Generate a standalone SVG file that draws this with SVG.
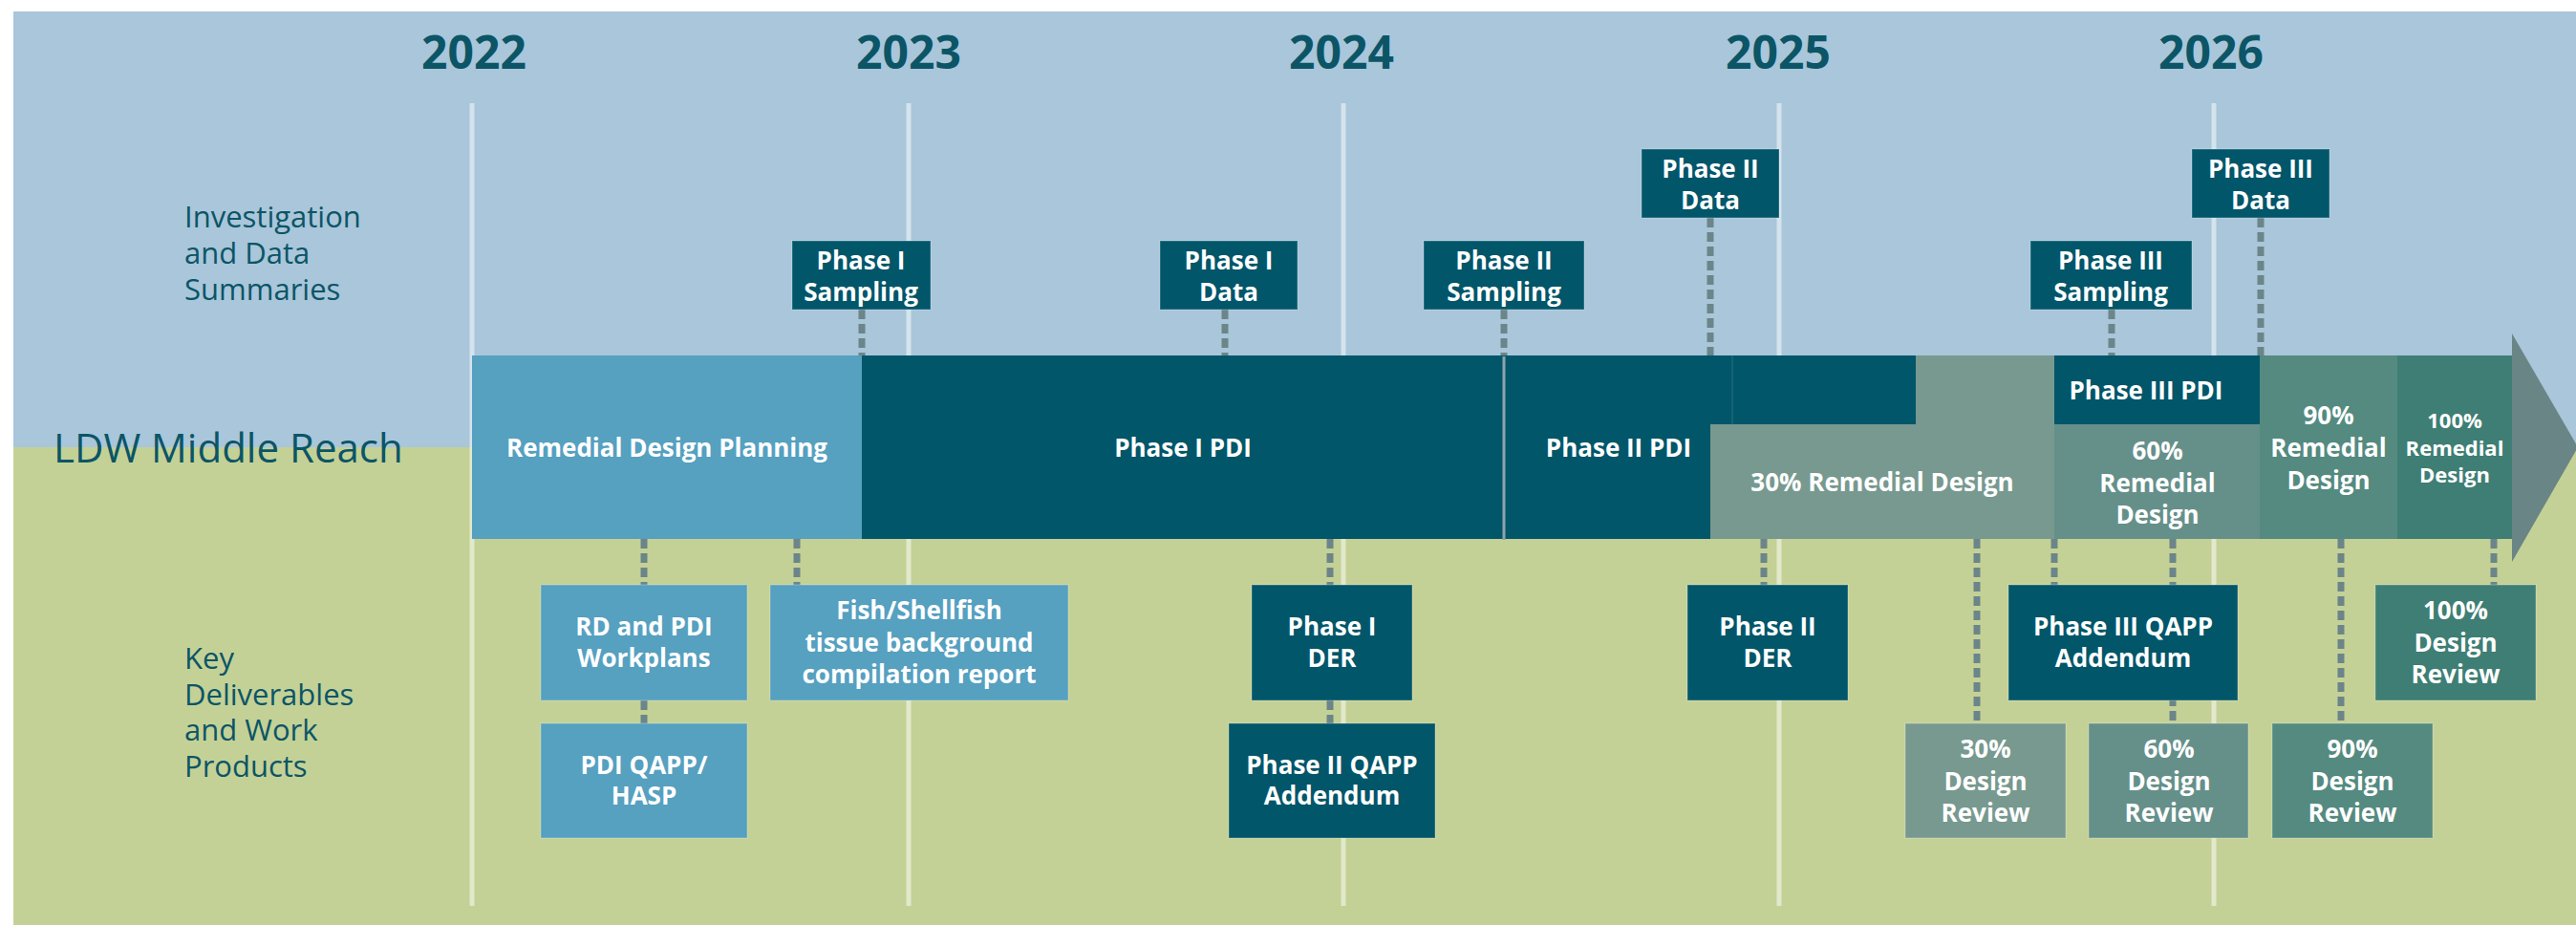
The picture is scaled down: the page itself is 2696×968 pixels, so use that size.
<svg xmlns="http://www.w3.org/2000/svg" width="2696" height="968" viewBox="0 0 2696 968">
<style>
.lbl{font-family:"Open Sans","Noto Sans","Liberation Sans",sans-serif;fill:#0b5566}
.side{font-size:31px}
.title{font-size:42px}
.yr{font-size:48px;font-weight:700;text-anchor:middle}
.t{font-family:"Open Sans","Noto Sans","Liberation Sans",sans-serif;font-weight:700;font-size:26px;fill:#fff;text-anchor:middle}
.ts{font-size:22px}
.yl{stroke:#fff;stroke-opacity:.5;stroke-width:5}
.cn{stroke:#6b8589;stroke-width:7;stroke-dasharray:10 5;fill:none}
.b{stroke:#fff;stroke-opacity:.2;stroke-width:1.5}
.dk{fill:#02566a}
.lb{fill:#56a0c0}
.g30{fill:#77998f}
.g60{fill:#65908a}
.g90{fill:#548a80}
.g100{fill:#3e7e74}
</style>
<rect x="0" y="0" width="2696" height="968" fill="#fff"/>
<rect x="14" y="12" width="2682" height="456" fill="#a9c6da"/>
<rect x="14" y="468" width="2682" height="500" fill="#c4d196"/>

<g id="year-lines">
<line class="yl" x1="494" y1="108" x2="494" y2="948"/>
<line class="yl" x1="951" y1="108" x2="951" y2="948"/>
<line class="yl" x1="1406" y1="108" x2="1406" y2="948"/>
<line class="yl" x1="1862" y1="108" x2="1862" y2="948"/>
<line class="yl" x1="2317" y1="108" x2="2317" y2="948"/>
</g>
<g id="years" class="lbl yr">
<text x="496" y="72">2022</text>
<text x="951" y="72">2023</text>
<text x="1404" y="72">2024</text>
<text x="1861" y="72">2025</text>
<text x="2314" y="72">2026</text>
</g>
<g id="row-labels" class="lbl side">
<text x="193" y="238">Investigation</text>
<text x="193" y="276">and Data</text>
<text x="193" y="314">Summaries</text>
<text x="193" y="700">Key</text>
<text x="193" y="738">Deliverables</text>
<text x="193" y="775">and Work</text>
<text x="193" y="813">Products</text>
</g>
<text id="title" class="lbl title" x="56" y="484">LDW Middle Reach</text>

<g id="connectors">
<line class="cn" x1="902" y1="324" x2="902" y2="372"/>
<line class="cn" x1="1282" y1="324" x2="1282" y2="372"/>
<line class="cn" x1="1574" y1="324" x2="1574" y2="372"/>
<line class="cn" x1="1790" y1="228" x2="1790" y2="372"/>
<line class="cn" x1="2210" y1="324" x2="2210" y2="372"/>
<line class="cn" x1="2366" y1="228" x2="2366" y2="372"/>
<line class="cn" x1="674" y1="564" x2="674" y2="612"/>
<line class="cn" x1="674" y1="733" x2="674" y2="757"/>
<line class="cn" x1="834" y1="564" x2="834" y2="612"/>
<line class="cn" x1="1392" y1="564" x2="1392" y2="612"/>
<line class="cn" x1="1392" y1="733" x2="1392" y2="757"/>
<line class="cn" x1="1846" y1="564" x2="1846" y2="612"/>
<line class="cn" x1="2069" y1="564" x2="2069" y2="757"/>
<line class="cn" x1="2150" y1="564" x2="2150" y2="612"/>
<line class="cn" x1="2274" y1="564" x2="2274" y2="757"/>
<line class="cn" x1="2450" y1="564" x2="2450" y2="757"/>
<line class="cn" x1="2610" y1="564" x2="2610" y2="612"/>
</g>

<g id="seg-rd-planning">
<rect class="lb" x="494" y="372" width="408" height="192"/>
<text class="t" x="698" y="478">Remedial Design Planning</text>
</g>
<g id="seg-phase1-pdi">
<rect class="dk" x="902" y="372" width="672" height="192"/>
<text class="t" x="1238" y="478">Phase I PDI</text>
</g>
<g id="seg-phase2-pdi">
<rect class="dk" x="1574" y="372" width="239" height="192"/>
<rect class="dk" x="1813" y="372" width="192" height="72"/>
<line x1="1813" y1="372" x2="1813" y2="444" stroke="#fff" stroke-opacity=".08" stroke-width="2"/>
<line x1="1574" y1="373" x2="1574" y2="565" stroke="#8ea3aa" stroke-width="3"/>
<text class="t" x="1694" y="478">Phase II PDI</text>
</g>
<g id="seg-30-rd">
<path class="g30" d="M1790 444H2005V372H2150V564H1790Z"/>
<text class="t" x="1970" y="514">30% Remedial Design</text>
</g>
<g id="seg-phase3-pdi">
<rect class="dk" x="2150" y="372" width="215" height="72"/>
<text class="t" x="2246" y="418">Phase III PDI</text>
</g>
<g id="seg-60-rd">
<rect class="g60" x="2150" y="444" width="215" height="120"/>
<text class="t" x="2258" y="481">60%</text>
<text class="t" x="2258" y="515">Remedial</text>
<text class="t" x="2258" y="548">Design</text>
</g>
<g id="seg-90-rd">
<rect class="g90" x="2365" y="372" width="144" height="192"/>
<text class="t" x="2437" y="444">90%</text>
<text class="t" x="2437" y="478">Remedial</text>
<text class="t" x="2437" y="512">Design</text>
</g>
<g id="seg-100-rd">
<rect class="g100" x="2509" y="372" width="121" height="192"/>
<text class="t ts" x="2569" y="448">100%</text>
<text class="t ts" x="2569" y="477">Remedial</text>
<text class="t ts" x="2569" y="505">Design</text>
</g>
<polygon id="arrow-head" points="2629,349 2698,468 2629,588" fill="#6a8585"/>

<g id="phase1-sampling">
<rect class="dk b" x="829" y="252" width="145" height="72"/>
<text class="t" x="901" y="282">Phase I</text>
<text class="t" x="901" y="315">Sampling</text>
</g>
<g id="phase1-data">
<rect class="dk b" x="1214" y="252" width="144" height="72"/>
<text class="t" x="1286" y="282">Phase I</text>
<text class="t" x="1286" y="315">Data</text>
</g>
<g id="phase2-sampling">
<rect class="dk b" x="1490" y="252" width="168" height="72"/>
<text class="t" x="1574" y="282">Phase II</text>
<text class="t" x="1574" y="315">Sampling</text>
</g>
<g id="phase2-data">
<rect class="dk b" x="1718" y="156" width="144" height="72"/>
<text class="t" x="1790" y="186">Phase II</text>
<text class="t" x="1790" y="219">Data</text>
</g>
<g id="phase3-sampling">
<rect class="dk b" x="2125" y="252" width="169" height="72"/>
<text class="t" x="2209" y="282">Phase III</text>
<text class="t" x="2209" y="315">Sampling</text>
</g>
<g id="phase3-data">
<rect class="dk b" x="2294" y="156" width="144" height="72"/>
<text class="t" x="2366" y="186">Phase III</text>
<text class="t" x="2366" y="219">Data</text>
</g>

<g id="rd-pdi-workplans">
<rect class="lb b" x="566" y="612" width="216" height="121"/>
<text class="t" x="674" y="665">RD and PDI</text>
<text class="t" x="674" y="698">Workplans</text>
</g>
<g id="pdi-qapp-hasp">
<rect class="lb b" x="566" y="757" width="216" height="120"/>
<text class="t" x="674" y="810">PDI QAPP/</text>
<text class="t" x="674" y="842">HASP</text>
</g>
<g id="fish-shellfish">
<rect class="lb b" x="806" y="612" width="312" height="121"/>
<text class="t" x="962" y="648">Fish/Shellfish</text>
<text class="t" x="962" y="682">tissue background</text>
<text class="t" x="962" y="715">compilation report</text>
</g>
<g id="phase1-der">
<rect class="dk b" x="1310" y="612" width="168" height="121"/>
<text class="t" x="1394" y="665">Phase I</text>
<text class="t" x="1394" y="698">DER</text>
</g>
<g id="phase2-qapp">
<rect class="dk b" x="1286" y="757" width="216" height="120"/>
<text class="t" x="1394" y="810">Phase II QAPP</text>
<text class="t" x="1394" y="842">Addendum</text>
</g>
<g id="phase2-der">
<rect class="dk b" x="1766" y="612" width="168" height="121"/>
<text class="t" x="1850" y="665">Phase II</text>
<text class="t" x="1850" y="698">DER</text>
</g>
<g id="phase3-qapp">
<rect class="dk b" x="2102" y="612" width="240" height="121"/>
<text class="t" x="2222" y="665">Phase III QAPP</text>
<text class="t" x="2222" y="698">Addendum</text>
</g>
<g id="dr-30">
<rect class="g30 b" x="1994" y="757" width="168" height="120"/>
<text class="t" x="2078" y="793">30%</text>
<text class="t" x="2078" y="827">Design</text>
<text class="t" x="2078" y="860">Review</text>
</g>
<g id="dr-60">
<rect class="g60 b" x="2186" y="757" width="167" height="120"/>
<text class="t" x="2270" y="793">60%</text>
<text class="t" x="2270" y="827">Design</text>
<text class="t" x="2270" y="860">Review</text>
</g>
<g id="dr-90">
<rect class="g90 b" x="2378" y="757" width="168" height="120"/>
<text class="t" x="2462" y="793">90%</text>
<text class="t" x="2462" y="827">Design</text>
<text class="t" x="2462" y="860">Review</text>
</g>
<g id="dr-100">
<rect class="g100 b" x="2486" y="612" width="168" height="121"/>
<text class="t" x="2570" y="648">100%</text>
<text class="t" x="2570" y="682">Design</text>
<text class="t" x="2570" y="715">Review</text>
</g>
</svg>
